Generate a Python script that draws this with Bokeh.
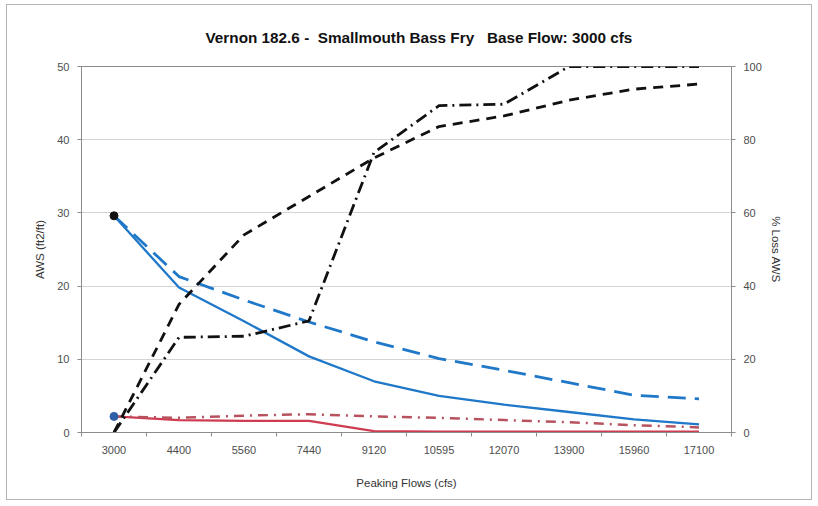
from bokeh.plotting import figure
from bokeh.models import LinearAxis, Range1d, FixedTicker, ColumnDataSource, Title
from bokeh.embed import file_html
from bokeh.resources import INLINE

# ---- data ----
flow_labels = ["3000", "4400", "5560", "7440", "9120", "10595", "12070", "13900", "15960", "17100"]
aws_peak = [29.6, 19.8, 15.2, 10.4, 7.0, 5.0, 3.8, 2.8, 1.8, 1.1]          # blue solid
aws_peak_b = [29.6, 21.3, 18.1, 15.1, 12.4, 10.1, 8.5, 6.8, 5.1, 4.6]     # blue dashed
aws_red = [2.2, 1.7, 1.6, 1.6, 0.2, 0.1, 0.1, 0.1, 0.1, 0.1]             # red solid
aws_red_b = [2.2, 2.0, 2.3, 2.5, 2.2, 2.0, 1.7, 1.4, 1.0, 0.7]           # red dash-dot
loss_a = [0, 35, 54, 64.5, 75, 83.6, 86.5, 90.8, 93.8, 95.2]              # black dashed (%)
loss_b = [0, 26, 26.3, 30.5, 76.5, 89.3, 89.7, 100, 100, 100]             # black dash-dot (%)

title_text = "Vernon 182.6 -\u00a0\u00a0Smallmouth Bass Fry\u00a0\u00a0\u00a0Base Flow: 3000 cfs"

xs = list(range(len(flow_labels)))
src = ColumnDataSource(dict(x=xs, a=aws_peak, b=aws_peak_b, r=aws_red, rb=aws_red_b,
                            la=loss_a, lb=loss_b))

FONT = "Liberation Sans"
TICK_COLOR = "#4d4d4d"

p = figure(width=806, height=496, output_backend="svg", toolbar_location=None,
           x_range=Range1d(-0.5, 9.5), y_range=Range1d(0, 50),
           min_border_left=74, min_border_right=82, min_border_top=61, min_border_bottom=69)
p.extra_y_ranges = {"pct": Range1d(0, 100)}
p.styles = {"border": "1px solid #b4b4b4", "margin-left": "6px", "margin-top": "4px"}

p.title = Title(text=title_text, align="left", offset=124, standoff=42,
                text_font=FONT, text_font_size="15.3px",
                text_font_style="bold", text_color="#111111")

p.background_fill_color = "white"
p.border_fill_color = "white"
p.outline_line_color = "#8c8c8c"
p.outline_line_width = 1

# x axis
xa = p.xaxis[0]
xa.ticker = FixedTicker(ticks=xs, minor_ticks=[i - 0.5 for i in range(len(flow_labels) + 1)])
xa.major_label_overrides = {i: lab for i, lab in enumerate(flow_labels)}
xa.major_tick_out = 0
xa.major_tick_in = 0
xa.minor_tick_out = 4
xa.minor_tick_in = 0
xa.minor_tick_line_color = "#8c8c8c"
xa.axis_line_color = "#8c8c8c"
xa.axis_label = "Peaking Flows (cfs)"
xa.axis_label_standoff = 20
xa.major_label_standoff = 9

# left axis
ya = p.yaxis[0]
ya.ticker = FixedTicker(ticks=[0, 10, 20, 30, 40, 50])
ya.minor_tick_out = 0
ya.minor_tick_in = 0
ya.major_tick_out = 4
ya.major_tick_in = 0
ya.axis_line_color = "#8c8c8c"
ya.major_tick_line_color = "#8c8c8c"
ya.axis_label = "AWS (ft2/ft)"
ya.axis_label_standoff = 8
ya.major_label_standoff = 8

# right axis
ra = LinearAxis(y_range_name="pct", ticker=FixedTicker(ticks=[0, 20, 40, 60, 80, 100]))
ra.minor_tick_out = 0
ra.minor_tick_in = 0
ra.major_tick_out = 4
ra.major_tick_in = 0
ra.axis_line_color = "#8c8c8c"
ra.major_tick_line_color = "#8c8c8c"
ra.axis_label = "% Loss AWS"
ra.axis_label_standoff = 5
ra.major_label_standoff = 8
p.add_layout(ra, "right")

for ax in [xa, ya, ra]:
    ax.major_label_text_font = FONT
    ax.major_label_text_font_size = "11px"
    ax.major_label_text_color = TICK_COLOR
    ax.axis_label_text_font = FONT
    ax.axis_label_text_font_size = "11.5px"
    ax.axis_label_text_font_style = "normal"
    ax.axis_label_text_color = "#333333"

p.xgrid.grid_line_color = None
p.ygrid.ticker = FixedTicker(ticks=[10, 20, 30, 40])
p.ygrid.grid_line_color = "#d4d4d4"
p.ygrid.grid_line_width = 1

BLUE = "#1f78c8"
RED = "#cf3c52"
RED2 = "#b8525e"
BLACK = "#111111"

p.line("x", "r", source=src, color=RED, line_width=2.3)
p.line("x", "rb", source=src, color=RED2, line_width=2.5, line_dash="10 6 2 6")
p.line("x", "a", source=src, color=BLUE, line_width=2.3)
p.line("x", "b", source=src, color=BLUE, line_width=2.8, line_dash="18 9")
p.line("x", "la", source=src, color=BLACK, line_width=2.8, line_dash="10 7", y_range_name="pct")
p.line("x", "lb", source=src, color=BLACK, line_width=2.8, line_dash="12 5 2 5", y_range_name="pct")

p.scatter(x=[xs[0]], y=[aws_peak[0]], size=8, color="#111111")
p.scatter(x=[xs[0]], y=[aws_red[0]], size=8, color="#2f5fa6")

open("out.html", "w").write(file_html(p, INLINE))
